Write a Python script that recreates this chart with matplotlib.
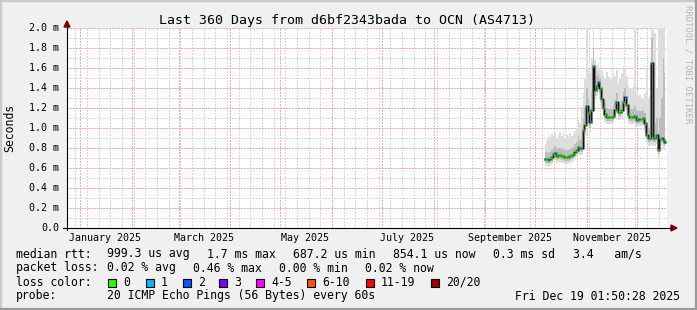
"""SmokePing style latency graph: last 360 days, d6bf2343bada -> OCN (AS4713)."""

import matplotlib

matplotlib.use("Agg")

import matplotlib.dates as mdates
import matplotlib.pyplot as plt
import pandas as pd
from matplotlib.lines import Line2D
from matplotlib.patches import Polygon, Rectangle
from matplotlib.ticker import FixedLocator

W, H, DPI = 697, 310, 100
FONT = "DejaVu Sans Mono"

TITLE = "Last 360 Days from d6bf2343bada to OCN (AS4713)"
RANGE_START = "2024-12-24 01:50:28"
RANGE_END = "2025-12-19 01:50:28"

Y_TICKS = [0.0, 0.2, 0.4, 0.6, 0.8, 1.0, 1.2, 1.4, 1.6, 1.8, 2.0]
Y_TICK_LABELS = ["0.0", "0.2 m", "0.4 m", "0.6 m", "0.8 m", "1.0 m",
                 "1.2 m", "1.4 m", "1.6 m", "1.8 m", "2.0 m"]
MONTH_LABELS = ["January 2025", "March 2025", "May 2025",
                "July 2025", "September 2025", "November 2025"]
MONTH_LABEL_DATES = ["2025-01-16", "2025-03-16", "2025-05-16",
                     "2025-07-16", "2025-09-16", "2025-11-16"]

# daily samples (ms), first sample on 2025-10-07
SAMPLE_START = "2025-10-07"
MEDIAN = [0.69, 0.69, 0.68, 0.69, 0.71, 0.74, 0.75, 0.72, 0.73, 0.73,
          0.72, 0.72, 0.71, 0.71, 0.71, 0.72, 0.73, 0.74, 0.76, 0.78,
          0.81, 0.80, 0.80, 0.98, 1.03, 1.22, 1.15, 1.06, 1.18, 1.62,
          1.38, 1.42, 1.46, 1.40, 1.29, 1.20, 1.14, 1.11, 1.11, 1.11,
          1.11, 1.12, 1.18, 1.26, 1.16, 1.16, 1.18, 1.26, 1.31, 1.23,
          1.13, 1.11, 1.11, 1.11, 1.12, 1.08, 1.09, 1.09, 1.09, 1.10,
          1.05, 0.93, 0.90, 0.90, 1.65, 0.90, 0.90, 0.93, 0.78, 0.89,
          0.90, 0.88, 0.86]
LOSS = [1, 0, 0, 0, 0, 0, 1, 0, 0, 0,
        0, 0, 0, 0, 0, 0, 0, 0, 0, 0,
        0, 1, 1, 0, 0, 1, 0, 1, 0, 0,
        0, 0, 1, 0, 0, 0, 0, 0, 0, 0,
        0, 0, 0, 1, 0, 0, 0, 0, 1, 0,
        0, 0, 0, 0, 0, 0, 1, 0, 0, 0,
        0, 0, 1, 0, 1, 0, 0, 1, 0, 0,
        0, 1, 0]
SMOKE_MAX = [0.84, 0.88, 0.93, 0.91, 0.94, 0.92, 0.95, 0.90, 0.93, 0.96,
             0.92, 0.95, 0.90, 0.93, 0.91, 0.95, 0.92, 0.94, 0.97, 1.00,
             1.08, 1.05, 1.21, 1.35, 1.50, 2.00, 1.60, 1.55, 1.70, 2.00,
             1.68, 1.62, 1.65, 1.60, 1.58, 1.52, 1.50, 1.56, 1.52, 1.50,
             1.48, 1.55, 1.52, 1.58, 1.45, 1.50, 1.55, 1.62, 1.58, 1.52,
             1.42, 1.40, 1.38, 1.42, 2.00, 1.35, 1.32, 1.33, 1.30, 1.28,
             1.35, 1.58, 1.30, 1.32, 2.00, 1.98, 1.95, 1.40, 2.00, 2.00,
             2.00, 2.00, 2.00]
SMOKE_UPPER = [0.75, 0.76, 0.75, 0.76, 0.78, 0.80, 0.82, 0.79, 0.80, 0.80,
               0.79, 0.80, 0.78, 0.78, 0.78, 0.79, 0.80, 0.81, 0.84, 0.86,
               0.92, 0.88, 0.90, 1.10, 1.20, 1.40, 1.30, 1.20, 1.35, 1.80,
               1.50, 1.52, 1.55, 1.50, 1.40, 1.30, 1.25, 1.20, 1.19, 1.19,
               1.19, 1.22, 1.28, 1.35, 1.25, 1.24, 1.28, 1.36, 1.40, 1.32,
               1.22, 1.19, 1.19, 1.19, 1.22, 1.18, 1.17, 1.17, 1.17, 1.18,
               1.15, 1.05, 1.00, 1.00, 1.90, 1.00, 1.05, 1.10, 0.95, 1.10,
               1.30, 1.70, 1.55]
SMOKE_LOWER = [0.65, 0.65, 0.64, 0.65, 0.67, 0.70, 0.71, 0.68, 0.69, 0.69,
               0.68, 0.68, 0.67, 0.67, 0.67, 0.68, 0.69, 0.70, 0.72, 0.74,
               0.77, 0.76, 0.76, 0.92, 0.97, 1.10, 1.08, 1.00, 1.10, 1.30,
               1.32, 1.36, 1.40, 1.35, 1.24, 1.15, 1.10, 1.07, 1.07, 1.07,
               1.07, 1.08, 1.13, 1.20, 1.12, 1.12, 1.14, 1.20, 1.25, 1.18,
               1.09, 1.07, 1.07, 1.07, 1.08, 1.04, 1.05, 1.05, 1.05, 1.06,
               1.00, 0.89, 0.86, 0.86, 0.87, 0.86, 0.86, 0.88, 0.74, 0.85,
               0.86, 0.84, 0.82]
SMOKE_MIN = [0.62, 0.62, 0.61, 0.62, 0.64, 0.67, 0.68, 0.65, 0.66, 0.66,
             0.65, 0.65, 0.64, 0.64, 0.64, 0.65, 0.66, 0.67, 0.69, 0.71,
             0.74, 0.73, 0.73, 0.88, 0.93, 1.02, 1.02, 0.96, 1.04, 1.22,
             1.28, 1.32, 1.36, 1.30, 1.20, 1.11, 1.06, 1.04, 1.04, 1.04,
             1.04, 1.05, 1.09, 1.14, 1.08, 1.08, 1.10, 1.15, 1.19, 1.13,
             1.05, 1.04, 1.04, 1.04, 1.05, 1.01, 1.02, 1.02, 1.02, 1.03,
             0.96, 0.85, 0.82, 0.82, 0.83, 0.82, 0.82, 0.84, 0.70, 0.80,
             0.82, 0.80, 0.78]

LOSS_NAMES = ["0", "1", "2", "3", "4-5", "6-10", "11-19", "20/20"]
LOSS_COLORS = ["#26ff00", "#00b8ff", "#0059ff", "#7e00ff",
               "#ff00ff", "#ff5500", "#ff0000", "#a10000"]
LOSS_KEY_X = [108, 146, 183, 219, 256, 307, 366, 431]

STATS_RTT = [("median rtt:", 16), ("999.3 us avg", 107), ("1.7 ms max", 207),
             ("687.2 us min", 293), ("854.1 us now", 393), ("0.3 ms sd", 493),
             ("3.4   am/s", 573)]
STATS_LOSS = [("packet loss:", 16), ("0.02 % avg", 107), ("0.46 % max", 193),
              ("0.00 % min", 279), ("0.02 % now", 365)]
PROBE_TEXT = "20 ICMP Echo Pings (56 Bytes) every 60s"
STAMP_TEXT = "Fri Dec 19 01:50:28 2025"

AX_L, AX_R, AX_T, AX_B = 67, 667, 28, 228
ARROW = "#7f0000"


def fx(px):
    return px / W


def fy(py):
    return 1 - py / H


def main():
    plt.rcParams["font.family"] = FONT
    fig = plt.figure(figsize=(W / DPI, H / DPI), dpi=DPI)
    fig.patch.set_facecolor("#f0f0f0")

    ax = fig.add_axes([fx(AX_L), fy(AX_B), (AX_R - AX_L) / W, (AX_B - AX_T) / H])
    ax.set_facecolor("white")
    dates = pd.date_range(SAMPLE_START, periods=len(MEDIAN), freq="D")

    ax.fill_between(dates, SMOKE_MIN, SMOKE_MAX, step="mid", color="#dddddd", lw=0, zorder=2)
    ax.fill_between(dates, SMOKE_LOWER, SMOKE_UPPER, step="mid", color="#bcbcbc", lw=0, zorder=3)
    ax.step(dates, MEDIAN, where="mid", color="#8c8c8c", lw=2.2, zorder=4)
    ax.step(dates, MEDIAN, where="mid", color="#161616", lw=0.9, zorder=5)
    half = pd.Timedelta(hours=7)
    for d, m, loss in zip(dates, MEDIAN, LOSS):
        ax.hlines(m, d - half, d + half, color=LOSS_COLORS[loss], lw=2.2, zorder=6)

    ax.set_xlim(pd.Timestamp(RANGE_START), pd.Timestamp(RANGE_END))
    ax.set_ylim(0, 2.0)
    ax.xaxis.set_major_locator(mdates.MonthLocator())
    sundays = [d for d in pd.date_range(RANGE_START, RANGE_END, freq="W-SUN").normalize() if d.day != 1]
    ax.xaxis.set_minor_locator(FixedLocator(mdates.date2num(sundays)))
    ax.set_yticks(Y_TICKS)
    ax.set_yticks([v + 0.1 for v in Y_TICKS[:-1]], minor=True)
    ax.grid(True, which="minor", color="#d6d6d6", lw=1.0, ls=(0, (1, 1)),
            antialiased=False, zorder=1)
    ax.grid(True, which="major", color="#f7abab", lw=1.0, ls=(0, (1, 1)),
            antialiased=False, zorder=1)
    ax.set_axisbelow(True)
    ax.tick_params(which="both", length=0, labelbottom=False, labelleft=False)
    for s in ax.spines.values():
        s.set_visible(False)

    # axes with arrows
    fig.add_artist(Line2D([fx(AX_L), fx(AX_L)], [fy(AX_B + 2), fy(AX_T - 2)], color="black", lw=0.8))
    fig.add_artist(Line2D([fx(AX_L - 4), fx(AX_R + 5)], [fy(AX_B), fy(AX_B)], color="black", lw=0.8))
    fig.add_artist(Polygon([(fx(AX_L - 3), fy(AX_T - 1)), (fx(AX_L + 3), fy(AX_T - 1)), (fx(AX_L), fy(AX_T - 7))],
                           closed=True, color=ARROW, transform=fig.transFigure))
    fig.add_artist(Polygon([(fx(AX_R + 4), fy(AX_B - 3)), (fx(AX_R + 4), fy(AX_B + 3)), (fx(AX_R + 10), fy(AX_B))],
                           closed=True, color=ARROW, transform=fig.transFigure))

    # tick labels
    for v, lab in zip(Y_TICKS, Y_TICK_LABELS):
        fig.text(fx(59), fy(AX_B - v * 100), lab, ha="right", va="center", fontsize=7.2)
    for d, lab in zip(MONTH_LABEL_DATES, MONTH_LABELS):
        ax.text(pd.Timestamp(d), -0.025, lab, transform=ax.get_xaxis_transform(),
                ha="center", va="top", fontsize=7.2)

    fig.text(fx(347), fy(24), TITLE, ha="center", va="baseline", fontsize=9.5)
    fig.text(fx(10), fy(128), "Seconds", rotation=90, ha="center", va="center", fontsize=8.3)
    fig.text(fx(688), fy(5), "RRDTOOL / TOBI OETIKER", rotation=270, ha="center", va="top",
             fontsize=6.4, color="#b4b4b4")

    # legend rows
    fs = 8.3
    for txt, x in STATS_RTT:
        fig.text(fx(x), fy(257.5), txt, fontsize=fs, va="baseline")
    for txt, x in STATS_LOSS:
        fig.text(fx(x), fy(271.5), txt, fontsize=fs, va="baseline")
    fig.text(fx(16), fy(285.5), "loss color:", fontsize=fs, va="baseline")
    for name, color, x in zip(LOSS_NAMES, LOSS_COLORS, LOSS_KEY_X):
        fig.add_artist(Rectangle((fx(x), fy(287)), 8 / W, 8 / H, facecolor=color,
                                 edgecolor="black", lw=0.8, transform=fig.transFigure))
        fig.text(fx(x + 15), fy(285.5), name, fontsize=fs, va="baseline")
    fig.text(fx(16), fy(299.5), "probe:", fontsize=fs, va="baseline")
    fig.text(fx(107), fy(299.5), PROBE_TEXT, fontsize=fs, va="baseline")
    fig.text(fx(680), fy(299.5), STAMP_TEXT, fontsize=fs, va="baseline", ha="right")

    # 3d frame
    fig.add_artist(Line2D([0, 0, 1], [0, 1, 1], color="#cbcbcb", lw=2.5, transform=fig.transFigure))
    fig.add_artist(Line2D([0, 1, 1], [0, 0, 1], color="#999999", lw=3.0, transform=fig.transFigure))

    fig.savefig("out.png", dpi=DPI, facecolor=fig.get_facecolor())
    plt.close(fig)


if __name__ == "__main__":
    main()
